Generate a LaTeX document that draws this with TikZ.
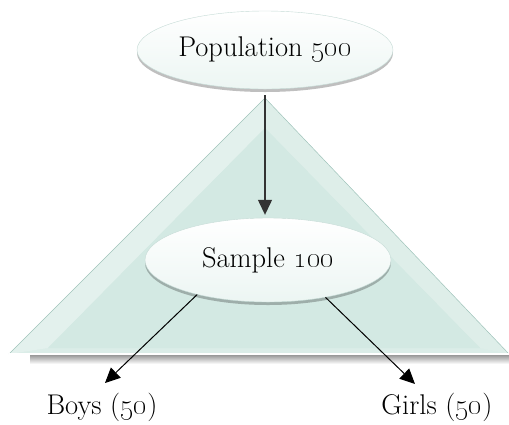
\documentclass[tikz,border=0pt]{standalone}
\usetikzlibrary{arrows.meta,shadows,shapes.geometric}
\definecolor{tealbase}{HTML}{D5EAE4}
\definecolor{tealdark}{HTML}{D3E9E3}
\definecolor{tealedge}{HTML}{9FC3BA}
\tikzset{
  ell/.style={ellipse, draw=tealedge!60, line width=0.4pt,
    shading=axis, top color=white, middle color=tealbase, bottom color=tealbase!45!white,
    drop shadow={shadow xshift=0pt, shadow yshift=-3pt, fill=black, opacity=0.25},
    font=\fontsize{28.5}{34}\selectfont, inner sep=0pt},
  lbl/.style={font=\fontsize{28.5}{34}\selectfont, inner sep=2pt},
  arr/.style={-{Triangle[length=15pt,width=14pt]}, line width=1pt, black},
}
\begin{document}
\begin{tikzpicture}[x=1pt,y=-1pt]
\useasboundingbox (0,0) rectangle (509,424);
% triangle shadow
\shade[top color=black!40, bottom color=white] (30,355) rectangle (509,364);
% triangle
\coordinate (A) at (265,98);
\coordinate (L) at (9,354);
\coordinate (R) at (509,354);
\coordinate (iA) at (265,128);
\coordinate (iL) at (48,348);
\coordinate (iR) at (480,348);
\fill[tealbase] (A) -- (L) -- (R) -- cycle;
\fill[white, opacity=0.35] (A) -- (L) -- (iL) -- (iA) -- cycle;
\fill[white, opacity=0.22] (A) -- (R) -- (iR) -- (iA) -- cycle;
\fill[white, opacity=0.15] (L) -- (R) -- (iR) -- (iL) -- cycle;
\fill[tealdark] (iA) -- (iL) -- (iR) -- cycle;
\draw[tealedge, line width=0.5pt] (R) -- (A) -- (L);
\draw[white, line width=1.2pt] (L) -- (R);
% nodes
\node[ell, minimum width=256pt, minimum height=78pt] (pop) at (265,50) {Population \oldstylenums{500}};
\node[ell, minimum width=246pt, minimum height=84pt] (samp) at (268,260) {Sample \oldstylenums{100}};
\node[lbl] (boys) at (102,407) {Boys (\oldstylenums{50})};
\node[lbl] (girls) at (437,407) {Girls (\oldstylenums{50})};
\coordinate (bt) at (105,383);
\coordinate (gt) at (415,384);
% connectors
\draw[arr, black!80, line width=1.3pt, shorten <=6pt, shorten >=3pt] (pop.south) -- (pop.south |- samp.north);
\draw[arr] (samp.206) -- (bt);
\draw[arr] (samp.327) -- (gt);
\end{tikzpicture}
\end{document}
